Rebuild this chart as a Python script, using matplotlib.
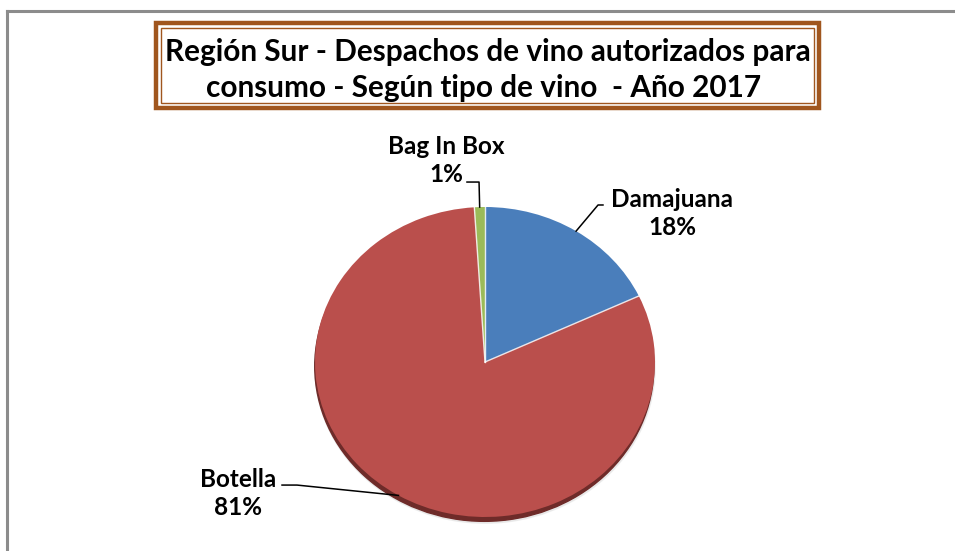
import matplotlib
matplotlib.use("Agg")
import matplotlib.pyplot as plt
import numpy as np
from matplotlib.patches import Rectangle, Ellipse
from matplotlib.lines import Line2D

plt.rcParams['font.family'] = ['Lato', 'DejaVu Sans']

categories = ["Damajuana", "Botella", "Bag In Box"]
values = [18, 81, 1]
pct_labels = ["18%", "81%", "1%"]
colors = ["#4A7EBB", "#BA4F4C", "#9BBB59"]
title_lines = ["Región Sur - Despachos de vino autorizados para",
               "consumo - Según tipo de vino  - Año 2017"]

W, H = 955, 551
fig = plt.figure(figsize=(W / 100, H / 100), dpi=100)
fig.patch.set_facecolor("white")

# outer gray chart frame
fig.add_artist(Line2D([6.5 / W, 6.5 / W], [0, 1 - 10.5 / H], color="#8c8c8c", lw=2.2))
fig.add_artist(Line2D([6.5 / W, 954 / W], [1 - 10.5 / H, 1 - 10.5 / H], color="#8c8c8c", lw=2.2))

# title box (double brown border)
def px_rect(x0, y0, x1, y1, **kw):
    return Rectangle((x0 / W, 1 - y1 / H), (x1 - x0) / W, (y1 - y0) / H,
                     transform=fig.transFigure, fill=False, **kw)

fig.add_artist(px_rect(156, 23, 819, 108, edgecolor="#A0561E", lw=3.2))
fig.add_artist(px_rect(161, 28, 814, 103, edgecolor="#A0561E", lw=1.0))
fig.text(488 / W, 1 - 52.5 / H, title_lines[0], ha="center", va="center",
         fontsize=21.4, fontweight="bold", color="black")
fig.text(484 / W, 1 - 88.5 / H, title_lines[1], ha="center", va="center",
         fontsize=21.4, fontweight="bold", color="black")

# pie axes (elliptical: rx=170px, ry=155px, center (485,362))
cx, cy, rx, ry = 485, 362, 170, 155
axw, axh = 2.5 * rx, 2.5 * ry
ax = fig.add_axes([(cx - axw / 2) / W, (H - cy - axh / 2) / H, axw / W, axh / H])
ax.set_xlim(-1.25, 1.25)
ax.set_ylim(-1.25, 1.25)
ax.axis("off")

# shadow
ax.add_patch(Ellipse((-0.004, -0.028), 1.995, 2.0, color="#6e2b29", zorder=0))
ax.add_patch(Ellipse((0.0, -0.04), 2.0, 2.0, color="#e2e2e2", zorder=-1, alpha=0.6))

wedges, _ = ax.pie(values, colors=colors, startangle=90, counterclock=False,
                   wedgeprops=dict(linewidth=0), radius=1.0)
ax.set_aspect("auto")
ax.set_xlim(-1.25, 1.25)
ax.set_ylim(-1.25, 1.25)

# white separator lines
cum = np.concatenate([[0], np.cumsum(values)]) / sum(values)
for c in cum[:-1]:
    a = np.deg2rad(90 - 360 * c)
    ax.plot([0, np.cos(a)], [0, np.sin(a)], color="white", lw=1.0, alpha=0.85, zorder=5)

# labels with leader lines
mids = [90 - 360 * (cum[i] + cum[i + 1]) / 2 for i in range(len(values))]
text_pos = {"Damajuana": (1.10, 0.96), "Botella": (-1.453, -0.85), "Bag In Box": (-0.23, 1.30)}
leader = {"Damajuana": [(0.694, 1.013), (0.665, 1.013)],
          "Botella": [(-1.194, -0.794), (-1.106, -0.794)],
          "Bag In Box": [(-0.106, 1.161), (-0.035, 1.161)]}
for name, pct, m in zip(categories, pct_labels, mids):
    a = np.deg2rad(m)
    anchor = (np.cos(a), np.sin(a))
    pts = leader[name] + [anchor]
    ax.plot([p[0] for p in pts], [p[1] for p in pts], color="black", lw=1.1, zorder=6,
            clip_on=False)
    tx, ty = text_pos[name]
    ax.text(tx, ty, f"{name}\n{pct}", ha="center", va="center", fontsize=17.5,
            fontweight="bold", linespacing=1.25, clip_on=False)

fig.savefig("out.png", dpi=100)
